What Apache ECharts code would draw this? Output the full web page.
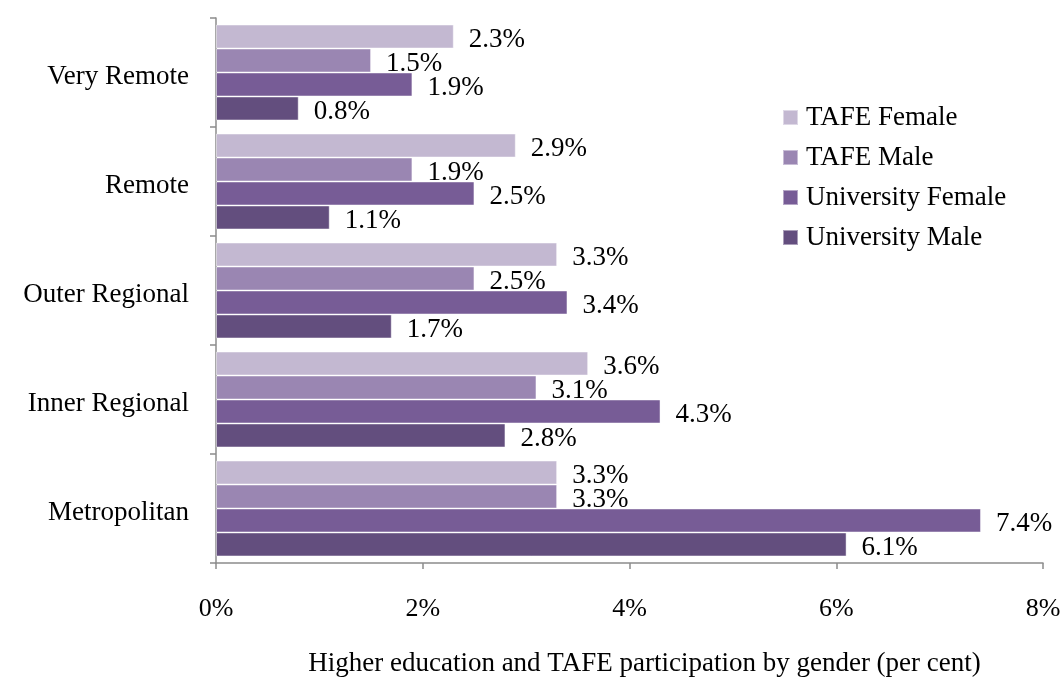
<!DOCTYPE html>
<html>
<head>
<meta charset="utf-8">
<script src="https://cdn.jsdelivr.net/npm/echarts@6/dist/echarts.min.js"></script>
<style>
  html, body { margin: 0; padding: 0; background: #fff; }
  #chart { width: 1063px; height: 677px; }
</style>
</head>
<body>
<div id="chart"></div>
<script>
  // regions, top to bottom
  var regions = ['Very Remote', 'Remote', 'Outer Regional', 'Inner Regional', 'Metropolitan'];
  var seriesNames = ['TAFE Female', 'TAFE Male', 'University Female', 'University Male'];
  var tafeFemale = [2.3, 2.9, 3.3, 3.6, 3.3];
  var tafeMale = [1.5, 1.9, 2.5, 3.1, 3.3];
  var uniFemale = [1.9, 2.5, 3.4, 4.3, 7.4];
  var uniMale = [0.8, 1.1, 1.7, 2.8, 6.1];
  var xTicks = [0, 2, 4, 6, 8];

  var colors = ['#c3b8d1', '#9a86b2', '#775c96', '#634e7e'];
  var font = 'Liberation Serif, Times New Roman, serif';

  var chart = echarts.init(document.getElementById('chart'));

  // later series sit above earlier ones so bars cover the labels above them
  function makeSeries(name, data, i) {
    return {
      name: name,
      type: 'bar',
      data: data,
      z: 2 + i,
      barGap: '0%',
      barCategoryGap: '12%',
      itemStyle: {
        color: colors[i],
        borderColor: 'rgba(255,255,255,0.45)',
        borderWidth: 1
      },
      label: {
        show: true,
        position: 'right',
        distance: 15,
        offset: [0, 3],
        color: '#000',
        fontFamily: font,
        fontSize: 27,
        formatter: function (p) {
          return p.value.toFixed(1) + '%';
        }
      }
    };
  }

  var option = {
    backgroundColor: '#fff',
    animation: false,
    textStyle: { fontFamily: font },
    grid: { left: 216, right: 20, top: 18, bottom: 114, containLabel: false, outerBoundsMode: 'none' },
    legend: {
      orient: 'vertical',
      left: 777,
      top: 99,
      itemWidth: 15,
      itemHeight: 15,
      itemGap: 13,
      icon: 'rect',
      data: seriesNames,
      textStyle: { fontFamily: font, fontSize: 27, color: '#000', padding: [0, 0, 0, 3] }
    },
    xAxis: {
      type: 'value',
      min: xTicks[0],
      max: xTicks[xTicks.length - 1],
      interval: 2,
      name: 'Higher education and TAFE participation by gender (per cent)',
      nameLocation: 'middle',
      nameGap: 87,
      nameTextStyle: { fontFamily: font, fontSize: 27, color: '#000', padding: [0, 0, 0, 30] },
      axisLine: { show: true, lineStyle: { color: '#8c8c8c', width: 1.5 } },
      axisTick: { show: true, length: 6, lineStyle: { color: '#8c8c8c', width: 1.5 } },
      axisLabel: {
        margin: 33,
        fontFamily: font,
        fontSize: 26,
        color: '#000',
        formatter: '{value}%'
      },
      splitLine: { show: false }
    },
    yAxis: {
      type: 'category',
      data: regions,
      inverse: true,
      axisLine: { show: true, lineStyle: { color: '#8c8c8c', width: 1.5 } },
      axisTick: { show: true, length: 6, lineStyle: { color: '#8c8c8c', width: 1.5 } },
      axisLabel: {
        margin: 27,
        verticalAlign: 'top',
        lineHeight: 8,
        fontFamily: font,
        fontSize: 27,
        color: '#000'
      }
    },
    series: [
      makeSeries(seriesNames[0], tafeFemale, 0),
      makeSeries(seriesNames[1], tafeMale, 1),
      makeSeries(seriesNames[2], uniFemale, 2),
      makeSeries(seriesNames[3], uniMale, 3)
    ]
  };

  chart.setOption(option);
</script>
</body>
</html>
